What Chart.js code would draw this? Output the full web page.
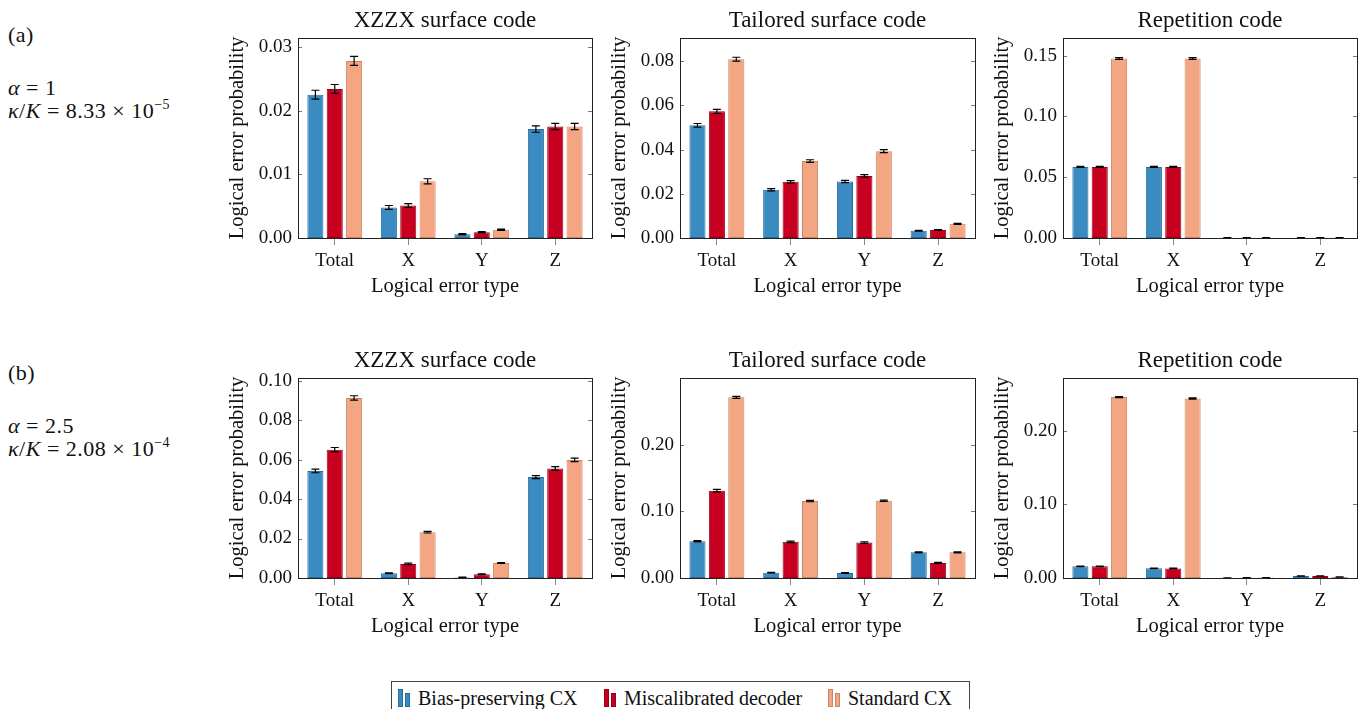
<!DOCTYPE html>
<html>
<head>
<meta charset="utf-8">
<script src="https://cdn.jsdelivr.net/npm/chart.js@4.4.0/dist/chart.umd.min.js"></script>
<style>
  html, body { margin: 0; padding: 0; background: #fff; }
  body { width: 1364px; height: 709px; position: relative; overflow: hidden; font-family: 'Liberation Serif', serif; color: #111; }
  canvas.panel { position: absolute; }
  .lbl { position: absolute; left: 8px; font-size: 22px; white-space: nowrap; line-height: 1; letter-spacing: 0.5px; }
  .lbl i { font-style: italic; }
  .lbl .op { margin: 0 6px; }
  .lbl sup { font-size: 14px; vertical-align: 9px; }
  #legend { position: absolute; left: 391px; top: 681px; width: 579px; height: 34px; border: 1px solid #444; box-sizing: border-box; font-size: 20px; }
  .item { position: absolute; top: 4px; height: 24px; display: flex; align-items: center; white-space: nowrap; }
  .ic { position: relative; width: 16px; height: 18px; margin-right: 4px; }
  .ic span { position: absolute; bottom: 0; width: 5px; border: 1px solid; box-sizing: border-box; }
</style>
</head>
<body>
<div class="lbl" style="top:24px;">(a)</div>
<div class="lbl" style="top:77px;"><i>α</i><span class="op">=</span>1</div>
<div class="lbl" style="top:98px;"><i>κ</i>/<i>K</i><span class="op">=</span>8.33<span class="op">×</span>10<sup>−5</sup></div>
<div class="lbl" style="top:362px;">(b)</div>
<div class="lbl" style="top:415px;"><i>α</i><span class="op">=</span>2.5</div>
<div class="lbl" style="top:436px;"><i>κ</i>/<i>K</i><span class="op">=</span>2.08<span class="op">×</span>10<sup>−4</sup></div>

<canvas class="panel" id="c1" width="380" height="300" style="left:218px;top:0px;"></canvas>
<canvas class="panel" id="c2" width="381" height="300" style="left:600px;top:0px;"></canvas>
<canvas class="panel" id="c3" width="380" height="300" style="left:983px;top:0px;"></canvas>
<canvas class="panel" id="c4" width="380" height="300" style="left:218px;top:340px;"></canvas>
<canvas class="panel" id="c5" width="381" height="300" style="left:600px;top:340px;"></canvas>
<canvas class="panel" id="c6" width="380" height="300" style="left:983px;top:340px;"></canvas>

<div id="legend"></div>

<script>
// ---------------- DATA ----------------
const categories = ["Total", "X", "Y", "Z"];
const seriesNames = ["Bias-preserving CX", "Miscalibrated decoder", "Standard CX"];
const panelTitles = ["XZZX surface code", "Tailored surface code", "Repetition code"];

// (a) alpha = 1
const xzzxA_bias = [0.0225, 0.0048, 0.0006, 0.0171];
const xzzxA_mis  = [0.0234, 0.0051, 0.0009, 0.0175];
const xzzxA_std  = [0.0278, 0.0089, 0.0013, 0.0175];
const xzzxA_errBias = [0.0007, 0.0003, 0.0001, 0.0005];
const xzzxA_errMis  = [0.0007, 0.0003, 0.0001, 0.0005];
const xzzxA_errStd  = [0.0007, 0.0004, 0.0001, 0.0005];
const xzzxA_ticks = [0, 0.01, 0.02, 0.03];

const tailA_bias = [0.0510, 0.0218, 0.0256, 0.0033];
const tailA_mis  = [0.0573, 0.0254, 0.0281, 0.0036];
const tailA_std  = [0.0809, 0.0348, 0.0393, 0.0064];
const tailA_errBias = [0.0008, 0.0005, 0.0005, 0.0002];
const tailA_errMis  = [0.0009, 0.0006, 0.0006, 0.0002];
const tailA_errStd  = [0.0009, 0.0006, 0.0007, 0.0002];
const tailA_ticks = [0, 0.02, 0.04, 0.06, 0.08];

const repA_bias = [0.0585, 0.0585, 0.0003, 0.0003];
const repA_mis  = [0.0585, 0.0585, 0.0003, 0.0003];
const repA_std  = [0.1477, 0.1477, 0.0003, 0.0003];
const repA_errBias = [0.0004, 0.0004, 0.0001, 0.0001];
const repA_errMis  = [0.0004, 0.0004, 0.0001, 0.0001];
const repA_errStd  = [0.0007, 0.0007, 0.0001, 0.0001];
const repA_ticks = [0, 0.05, 0.10, 0.15];

// (b) alpha = 2.5
const xzzxB_bias = [0.0542, 0.0024, 0.0003, 0.0511];
const xzzxB_mis  = [0.0650, 0.0071, 0.0019, 0.0555];
const xzzxB_std  = [0.0912, 0.0232, 0.0076, 0.0598];
const xzzxB_errBias = [0.0009, 0.0002, 0.0001, 0.0008];
const xzzxB_errMis  = [0.0011, 0.0004, 0.0002, 0.0009];
const xzzxB_errStd  = [0.0011, 0.0004, 0.0002, 0.0009];
const xzzxB_ticks = [0, 0.02, 0.04, 0.06, 0.08, 0.10];

const tailB_bias = [0.0551, 0.0080, 0.0075, 0.0386];
const tailB_mis  = [0.1310, 0.0542, 0.0532, 0.0226];
const tailB_std  = [0.2710, 0.1154, 0.1160, 0.0386];
const tailB_errBias = [0.0010, 0.0005, 0.0005, 0.0008];
const tailB_errMis  = [0.0018, 0.0012, 0.0012, 0.0008];
const tailB_errStd  = [0.0015, 0.0010, 0.0010, 0.0008];
const tailB_ticks = [0, 0.10, 0.20];

const repB_bias = [0.0158, 0.0131, 0.0002, 0.0027];
const repB_mis  = [0.0158, 0.0130, 0.0003, 0.0027];
const repB_std  = [0.2456, 0.2437, 0.0006, 0.0012];
const repB_errBias = [0.0005, 0.0005, 0.0001, 0.0003];
const repB_errMis  = [0.0005, 0.0005, 0.0001, 0.0003];
const repB_errStd  = [0.0008, 0.0008, 0.0001, 0.0002];
const repB_ticks = [0, 0.10, 0.20];

// ---------------- STYLE ----------------
const fills   = ["#3a8bc2", "#c8001f", "#f4a582"];
const borders = ["#2a6c99", "#9a0018", "#c98467"];
const FONT = "'Liberation Serif', serif";
Chart.defaults.font.family = FONT;
Chart.defaults.color = "#111";

const errorBarPlugin = {
  id: 'errbars',
  afterDatasetsDraw(chart) {
    const ctx = chart.ctx;
    const ys = chart.scales.y;
    ctx.save();
    ctx.strokeStyle = "#000";
    ctx.lineWidth = 1.2;
    chart.data.datasets.forEach((ds, di) => {
      const meta = chart.getDatasetMeta(di);
      meta.data.forEach((bar, i) => {
        const v = ds.data[i], e = ds.errors[i];
        const x = bar.x;
        const y1 = ys.getPixelForValue(v + e);
        const y2 = ys.getPixelForValue(Math.max(0, v - e));
        const cap = 4;
        ctx.beginPath();
        ctx.moveTo(x, y1); ctx.lineTo(x, y2);
        ctx.moveTo(x - cap, y1); ctx.lineTo(x + cap, y1);
        ctx.moveTo(x - cap, y2); ctx.lineTo(x + cap, y2);
        ctx.stroke();
      });
    });
    ctx.restore();
  }
};

const framePlugin = {
  id: 'frame',
  afterDraw(chart, args, opts) {
    const ctx = chart.ctx;
    const a = chart.chartArea;
    const ys = chart.scales.y;
    ctx.save();
    ctx.strokeStyle = "#777";
    ctx.lineWidth = 1;
    ys.ticks.forEach(t => {
      const y = Math.round(ys.getPixelForValue(t.value)) + 0.5;
      ctx.beginPath();
      ctx.moveTo(a.left, y); ctx.lineTo(a.left + 4, y);
      ctx.moveTo(a.right, y); ctx.lineTo(a.right - 4, y);
      ctx.stroke();
    });
    ctx.strokeStyle = "#222";
    ctx.lineWidth = 1;
    ctx.strokeRect(Math.round(a.left) + 0.5, Math.round(a.top) + 0.5, Math.round(a.right - a.left), Math.round(a.bottom - a.top));
    ctx.fillStyle = "#111";
    ctx.font = "23px " + FONT;
    ctx.textAlign = "center";
    ctx.textBaseline = "alphabetic";
    ctx.fillText(opts.text, (a.left + a.right) / 2, a.top - 11);
    ctx.restore();
  }
};

function makePanel(id, title, vals, errs, ticks, ymax) {
  const datasets = vals.map((d, k) => ({
    label: seriesNames[k],
    data: d,
    errors: errs[k],
    backgroundColor: fills[k],
    borderColor: borders[k],
    borderWidth: 1,
    borderSkipped: false,
    categoryPercentage: 0.79,
    barPercentage: 0.83
  }));
  new Chart(document.getElementById(id), {
    type: 'bar',
    data: { labels: categories, datasets },
    options: {
      responsive: false,
      animation: false,
      layout: { padding: { left: 0, right: 6, top: 38, bottom: 0 } },
      plugins: { legend: { display: false }, tooltip: { enabled: false }, frame: { text: title } },
      scales: {
        x: {
          offset: true,
          grid: { display: true, drawOnChartArea: false, drawTicks: true, tickLength: 7, color: "#888", offset: false },
          border: { display: false },
          ticks: { padding: 5, font: { size: 19 }, color: "#111", maxRotation: 0 },
          title: { display: true, text: "Logical error type", font: { size: 20.5 }, color: "#111", padding: { top: 0, bottom: 1 } },
          afterFit(s) { s.height = 62; }
        },
        y: {
          min: 0,
          max: ymax,
          grid: { display: false, drawTicks: false },
          border: { display: false },
          afterBuildTicks(s) { s.ticks = ticks.map(v => ({ value: v })); },
          ticks: { padding: 6, font: { size: 19 }, color: "#111", callback: v => Number(v).toFixed(2) },
          title: { display: true, text: "Logical error probability", font: { size: 20.5 }, color: "#111", padding: { top: 7, bottom: 0 } },
          afterFit(s) { s.width = 80; }
        }
      }
    },
    plugins: [errorBarPlugin, framePlugin]
  });
}

makePanel('c1', panelTitles[0], [xzzxA_bias, xzzxA_mis, xzzxA_std], [xzzxA_errBias, xzzxA_errMis, xzzxA_errStd], xzzxA_ticks, 0.0314);
makePanel('c2', panelTitles[1], [tailA_bias, tailA_mis, tailA_std], [tailA_errBias, tailA_errMis, tailA_errStd], tailA_ticks, 0.0905);
makePanel('c3', panelTitles[2], [repA_bias, repA_mis, repA_std], [repA_errBias, repA_errMis, repA_errStd], repA_ticks, 0.1645);
makePanel('c4', panelTitles[0], [xzzxB_bias, xzzxB_mis, xzzxB_std], [xzzxB_errBias, xzzxB_errMis, xzzxB_errStd], xzzxB_ticks, 0.1013);
makePanel('c5', panelTitles[1], [tailB_bias, tailB_mis, tailB_std], [tailB_errBias, tailB_errMis, tailB_errStd], tailB_ticks, 0.300);
makePanel('c6', panelTitles[2], [repB_bias, repB_mis, repB_std], [repB_errBias, repB_errMis, repB_errStd], repB_ticks, 0.2715);

// shared legend
const legendPos = [6, 212, 436];
const legend = document.getElementById('legend');
seriesNames.forEach((name, k) => {
  const it = document.createElement('div');
  it.className = 'item';
  it.style.left = legendPos[k] + 'px';
  it.innerHTML = '<div class="ic"><span style="left:0;height:18px;background:' + fills[k] + ';border-color:' + borders[k] + '"></span>' +
                 '<span style="left:7px;height:14px;background:' + fills[k] + ';border-color:' + borders[k] + '"></span></div>' + name;
  legend.appendChild(it);
});
</script>
</body>
</html>
